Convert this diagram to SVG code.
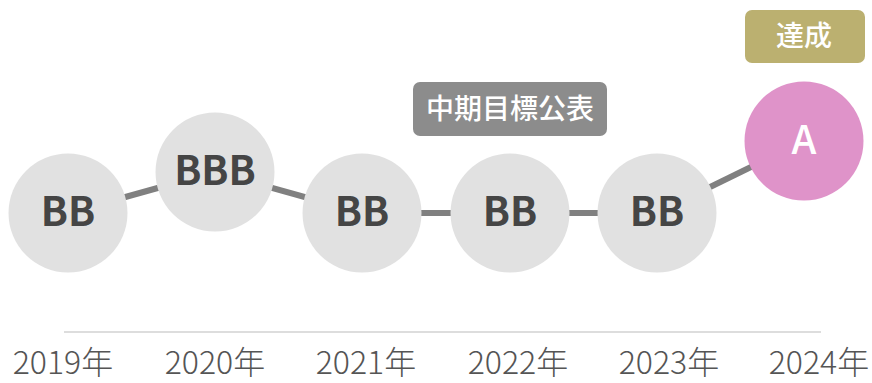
<svg xmlns="http://www.w3.org/2000/svg" width="872" height="383" viewBox="0 0 872 383">
<style>
.node circle{fill:#e1e1e1}
.node text{font-family:"Noto Sans CJK JP","Noto Sans",sans-serif;font-weight:bold;font-size:40px;fill:#454545;text-anchor:middle}
#n2024 circle{fill:#df93c9}
#n2024 text{fill:#ffffff;font-weight:500}
.conn line{stroke:#808080;stroke-width:6}
.tag text{font-family:"Noto Sans CJK JP",sans-serif;font-weight:500;font-size:28px;fill:#ffffff;text-anchor:middle}
.year{font-family:"Noto Sans CJK JP",sans-serif;font-weight:300;font-size:32px;fill:#555555;text-anchor:middle}
</style>
<rect width="872" height="383" fill="#ffffff"/>
<line x1="64" y1="332" x2="821" y2="332" stroke="#dddddd" stroke-width="2"/>
<g class="conn">
<line x1="68" y1="213" x2="215" y2="172"/>
<line x1="215" y1="172" x2="362" y2="213"/>
<line x1="362" y1="213" x2="510" y2="213"/>
<line x1="510" y1="213" x2="657" y2="213"/>
<line x1="657" y1="213" x2="804" y2="141"/>
</g>
<g id="n2019" class="node"><circle cx="68" cy="213" r="59.5"/><text x="68" y="226">BB</text></g>
<g id="n2020" class="node"><circle cx="215" cy="172" r="59.5"/><text x="215" y="185">BBB</text></g>
<g id="n2021" class="node"><circle cx="362" cy="213" r="59.5"/><text x="362" y="226">BB</text></g>
<g id="n2022" class="node"><circle cx="510" cy="213" r="59.5"/><text x="510" y="226">BB</text></g>
<g id="n2023" class="node"><circle cx="657" cy="213" r="59.5"/><text x="657" y="226">BB</text></g>
<g id="n2024" class="node"><circle cx="804" cy="141" r="59.5"/><text x="804" y="154">A</text></g>
<g id="tag-mid" class="tag"><rect x="413" y="82" width="194" height="54" rx="7" fill="#8c8c8c"/><text x="510" y="119">中期目標公表</text></g>
<g id="tag-done" class="tag"><rect x="745" y="10" width="120" height="53" rx="7" fill="#bbb070"/><text x="804" y="46">達成</text></g>
<g id="years">
<text class="year" x="63" y="373.5">2019年</text>
<text class="year" x="215" y="373.5">2020年</text>
<text class="year" x="366" y="373.5">2021年</text>
<text class="year" x="518" y="373.5">2022年</text>
<text class="year" x="669" y="373.5">2023年</text>
<text class="year" x="819" y="373.5">2024年</text>
</g>
</svg>
